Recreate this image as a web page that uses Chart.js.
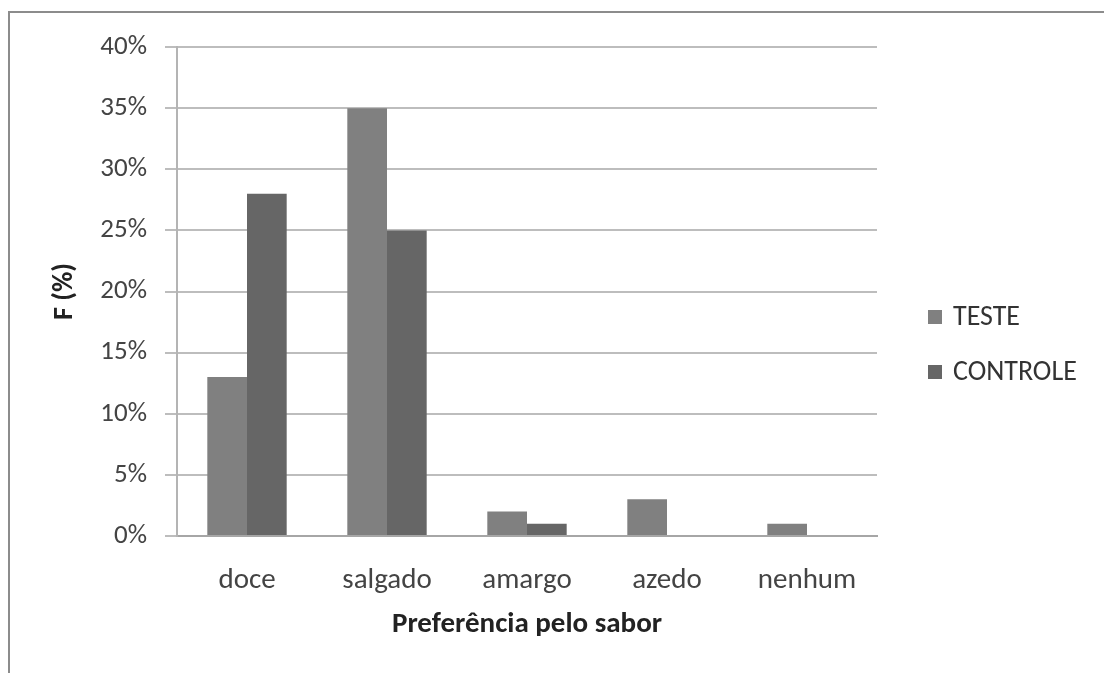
<!DOCTYPE html>
<html>
<head>
<meta charset="utf-8">
<script src="https://cdn.jsdelivr.net/npm/chart.js@4/dist/chart.umd.min.js"></script>
<style>
  html, body { margin: 0; padding: 0; background: #ffffff; }
  #wrap { width: 1104px; height: 673px; position: relative; }
</style>
</head>
<body>
<div id="wrap"><canvas id="c" width="1104" height="673"></canvas></div>
<script>
// Preferência pelo sabor — frequência (%) por grupo
const categories = ['doce', 'salgado', 'amargo', 'azedo', 'nenhum'];
const teste = [13, 35, 2, 3, 1];
const controle = [28, 25, 1, 0, 0];
const seriesNames = ['TESTE', 'CONTROLE'];
const seriesColors = ['#808080', '#666666'];
const yTicks = [0, 5, 10, 15, 20, 25, 30, 35, 40];

const FONT = 'Carlito, Lato, "Liberation Sans", sans-serif';

// Frame lines along the top and left of the figure
const framePlugin = {
  id: 'frame',
  beforeDraw(chart) {
    const ctx = chart.ctx;
    ctx.save();
    ctx.fillStyle = '#ffffff';
    ctx.fillRect(0, 0, chart.width, chart.height);
    ctx.strokeStyle = '#8c8c8c';
    ctx.lineWidth = 2;
    ctx.beginPath();
    ctx.moveTo(9, chart.height);
    ctx.lineTo(9, 12);
    ctx.lineTo(chart.width, 12);
    ctx.stroke();
    ctx.restore();
  }
};

// Legend at the right, built from the datasets
const sideLegend = {
  id: 'sideLegend',
  afterDraw(chart) {
    const ctx = chart.ctx;
    ctx.save();
    ctx.font = '28px ' + FONT;
    ctx.textBaseline = 'middle';
    ctx.textAlign = 'left';
    const x0 = 928, y0 = 317, step = 55;
    chart.data.datasets.forEach((ds, i) => {
      const y = y0 + i * step;
      ctx.fillStyle = ds.backgroundColor;
      ctx.fillRect(x0, y - 7, 14, 14);
      ctx.fillStyle = '#333333';
      ctx.fillText(ds.label, x0 + 25, y + 1);
    });
    ctx.restore();
  }
};

new Chart(document.getElementById('c'), {
  type: 'bar',
  data: {
    labels: categories,
    datasets: [
      { label: seriesNames[0], data: teste, backgroundColor: seriesColors[0] },
      { label: seriesNames[1], data: controle, backgroundColor: seriesColors[1] }
    ]
  },
  options: {
    responsive: false,
    animation: false,
    layout: { padding: { left: 10, top: 47, right: 227, bottom: 0 } },
    datasets: { bar: { categoryPercentage: 0.567, barPercentage: 1.0 } },
    plugins: {
      legend: { display: false },
      tooltip: { enabled: false }
    },
    scales: {
      x: {
        grid: { display: false },
        border: { display: true, color: '#a6a6a6', width: 2 },
        ticks: { color: '#444444', font: { family: FONT, size: 29 }, padding: 19 },
        title: {
          display: true,
          text: 'Preferência pelo sabor',
          color: '#222222',
          font: { family: FONT, size: 29, weight: 'bold' },
          padding: { top: 0, bottom: 31 }
        },
        afterFit(scale) { scale.height = 137; }
      },
      y: {
        min: 0,
        max: 40,
        afterBuildTicks(scale) { scale.ticks = yTicks.map(v => ({ value: v })); },
        grid: { color: '#bdbdbd', lineWidth: 2, tickLength: 12, drawTicks: true },
        border: { display: true, color: '#b4b4b4', width: 2 },
        ticks: {
          color: '#444444',
          font: { family: FONT, size: 27 },
          padding: 18,
          callback: v => v + '%'
        },
        title: {
          display: true,
          text: 'F (%)',
          color: '#222222',
          font: { family: FONT, size: 28, weight: 'bold' },
          padding: { top: 38, bottom: 0 }
        },
        afterFit(scale) { scale.width = 167; }
      }
    }
  },
  plugins: [framePlugin, sideLegend]
});
</script>
</body>
</html>
